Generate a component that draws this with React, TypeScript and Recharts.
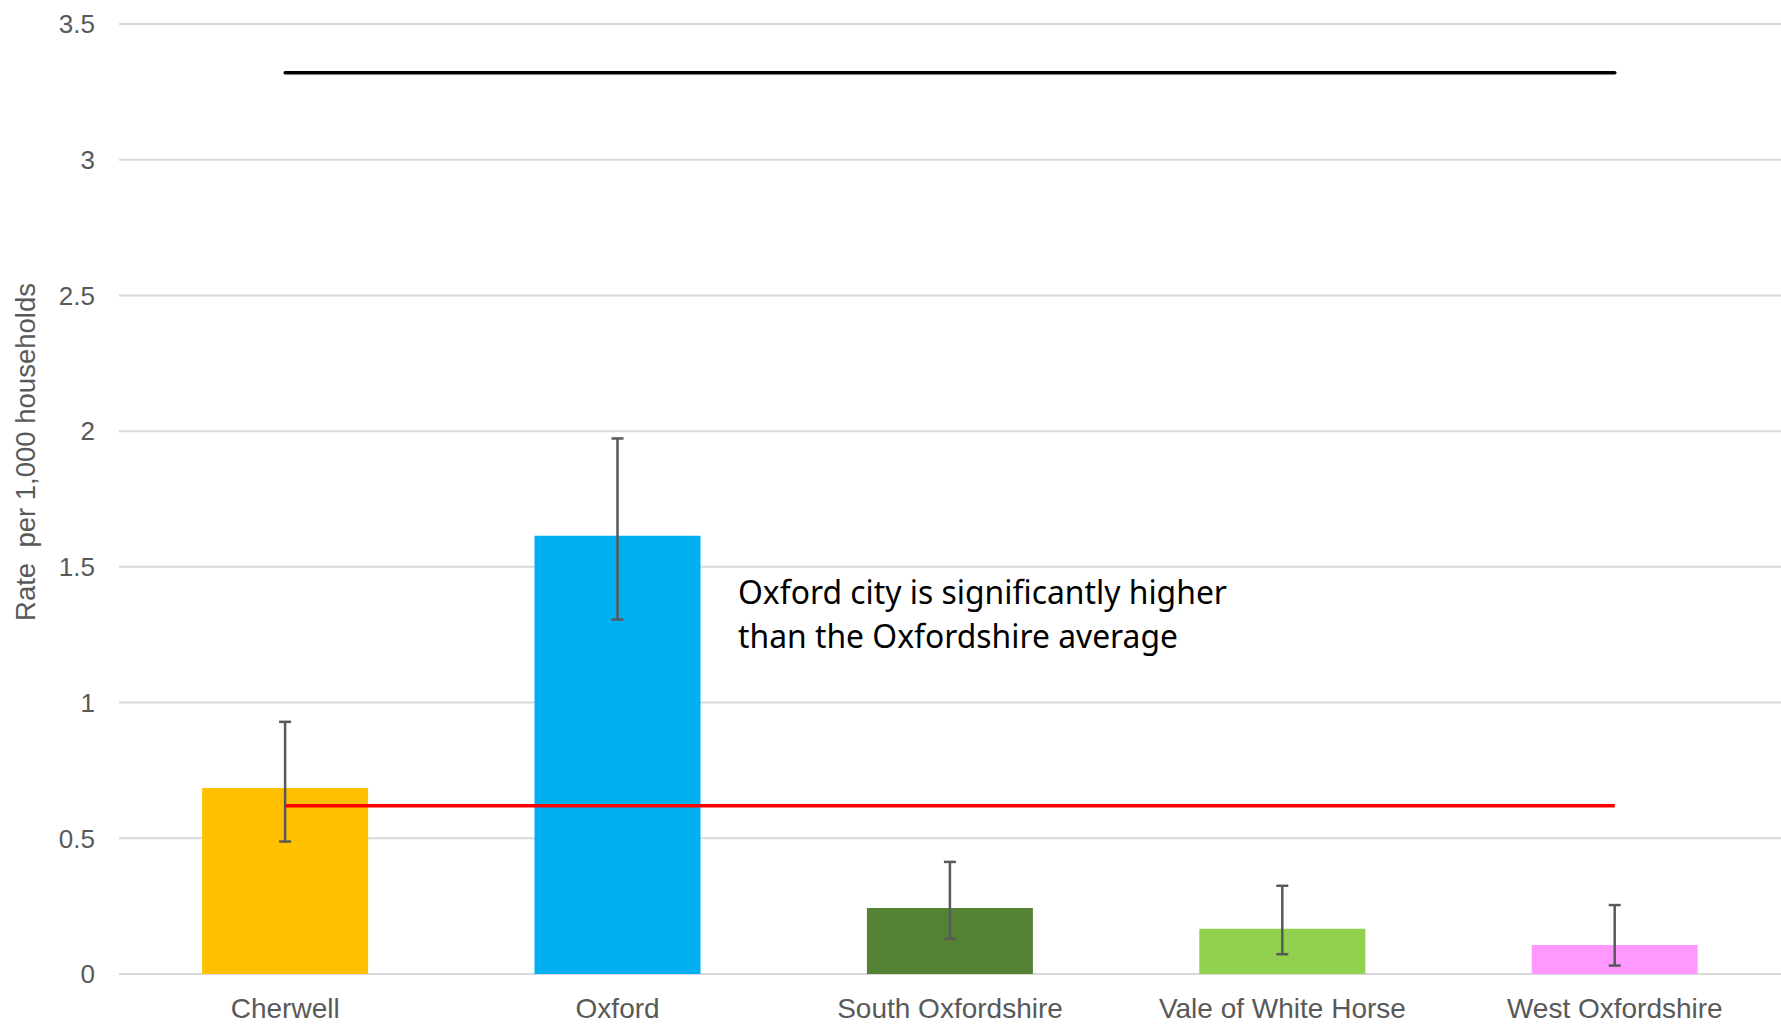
import React from 'react';
import {
  ComposedChart,
  Bar,
  Line,
  XAxis,
  YAxis,
  CartesianGrid,
  ErrorBar,
  Cell,
  Customized,
} from 'recharts';

const categories = ['Cherwell', 'Oxford', 'South Oxfordshire', 'Vale of White Horse', 'West Oxfordshire'];
const rates = [0.685, 1.615, 0.243, 0.167, 0.107];
const lowerCI = [0.488, 1.306, 0.13, 0.073, 0.031];
const upperCI = [0.929, 1.973, 0.413, 0.325, 0.254];
const barColors = ['#FFC000', '#00B0F0', '#548235', '#92D050', '#FF99FF'];
const comparatorRate = 3.32;
const oxfordshireAverage = 0.62;
const yTicks = [0, 0.5, 1, 1.5, 2, 2.5, 3, 3.5];
const yAxisTitle = 'Rate  per 1,000 households';
const noteLines = ['Oxford city is significantly higher', 'than the Oxfordshire average'];

const data = categories.map((name, i) => ({
  name,
  rate: rates[i],
  err: [rates[i] - lowerCI[i], upperCI[i] - rates[i]],
  comparator: comparatorRate,
  average: oxfordshireAverage,
}));

const Overlay = () => (
  <g>
    <text
      x={25}
      y={452}
      transform="rotate(-90 25 452)"
      textAnchor="middle"
      dominantBaseline="central"
      fontFamily="'Liberation Sans', Arial, sans-serif"
      fontSize={27.5}
      fill="#595959"
      style={{ whiteSpace: 'pre' }}
    >
      {yAxisTitle}
    </text>
    <text
      x={738}
      y={604}
      fontFamily="'Noto Sans', sans-serif"
      fontSize={32}
      fill="#000000"
      textLength={489}
      lengthAdjust="spacingAndGlyphs"
    >
      {noteLines[0]}
    </text>
    <text
      x={738}
      y={648}
      fontFamily="'Noto Sans', sans-serif"
      fontSize={32}
      fill="#000000"
      textLength={440}
      lengthAdjust="spacingAndGlyphs"
    >
      {noteLines[1]}
    </text>
  </g>
);

export default function App() {
  return (
    <div style={{ position: 'absolute', left: 0, top: 0, background: '#ffffff' }}>
      <ComposedChart
        width={1781}
        height={1031}
        data={data}
        margin={{ top: 24, right: 0, left: 0, bottom: 0 }}
        barCategoryGap="25%"
      >
        <CartesianGrid vertical={false} stroke="#D9D9D9" strokeWidth={2} />
        <XAxis
          dataKey="name"
          height={57}
          tickLine={false}
          axisLine={false}
          tickSize={0}
          tickMargin={24}
          interval={0}
          tick={{ fontSize: 28, fill: '#595959', fontFamily: "'Liberation Sans', Arial, sans-serif" }}
        />
        <YAxis
          width={119}
          domain={[0, 3.5]}
          ticks={yTicks}
          tickLine={false}
          axisLine={false}
          tickSize={0}
          tickMargin={24}
          tick={{ fontSize: 26, fill: '#595959', fontFamily: "'Liberation Sans', Arial, sans-serif" }}
        />
        <Bar dataKey="rate" isAnimationActive={false}>
          {data.map((d, i) => (
            <Cell key={d.name} fill={barColors[i]} />
          ))}
          <ErrorBar dataKey="err" width={6} stroke="#595959" strokeWidth={2.5} />
        </Bar>
        <Line
          dataKey="average"
          stroke="#FF0000"
          strokeWidth={3.5}
          dot={false}
          activeDot={false}
          isAnimationActive={false}
        />
        <Line
          dataKey="comparator"
          stroke="#000000"
          strokeWidth={3.5}
          strokeLinecap="round"
          dot={false}
          activeDot={false}
          isAnimationActive={false}
        />
        <Customized component={Overlay} />
      </ComposedChart>
    </div>
  );
}
